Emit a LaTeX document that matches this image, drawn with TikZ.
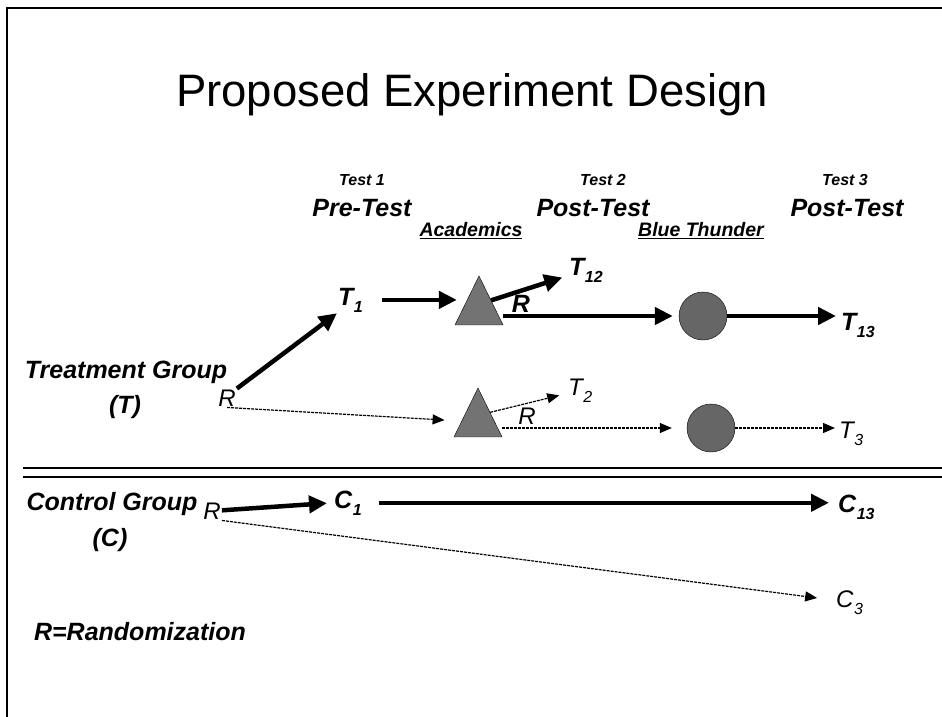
\documentclass[tikz,border=0pt]{standalone}
\usepackage{fontspec}
\setmainfont{Liberation Sans}
\usetikzlibrary{arrows.meta,shapes.geometric,calc}

\newcommand{\lowidx}[2]{#1\kern0.5pt\raisebox{-7pt}{\fontsize{16}{16}\selectfont #2}}

\begin{document}
\begin{tikzpicture}[x=1pt,y=-1pt,
		head/.style={font=\fontsize{25}{28}\selectfont\bfseries\itshape},
		mid/.style={font=\fontsize{19.5}{22}\selectfont\bfseries\itshape},
		small/.style={font=\fontsize{16}{18}\selectfont\bfseries\itshape},
		plain/.style={font=\fontsize{24}{28}\selectfont\itshape},
		tri/.style={isosceles triangle, isosceles triangle apex angle=52, isosceles triangle stretches, shape border rotate=90, draw, fill=black!55, inner sep=0pt, minimum width=48pt, minimum height=49pt},
		ball/.style={circle, draw, fill=black!60, minimum size=48pt, inner sep=0pt},
		big/.style={line width=4.5pt,-{Triangle[length=18pt,width=17pt]}},
		faint/.style={line width=1.2pt,dash pattern=on 3pt off 1pt,-{Triangle[length=12pt,width=10pt]}}]
		
		\useasboundingbox (0,0) rectangle (942,717);
		\draw[line width=2.5pt] (942,8) -- (7,8) -- (7,717);
		
		\node (title) at (472,95) [font=\fontsize{45.5}{50}\selectfont] {Proposed Experiment Design};
		
		\foreach \x/\y/\n/\lab in {362/362/1/Pre-Test, 603/593/2/Post-Test, 845/847/3/Post-Test} {
			\node (test\n) at (\x,180) [small] {Test \n};
			\node (phase\n) at (\y,208) [head] {\lab};
		}
		\node (acad) at (471,231) [mid] {\underline{Academics}};
		\node (blue) at (701,231) [mid] {\underline{Blue Thunder}};
		
		\node (tgroup) at (126,372) [head] {Treatment Group};
		\node (tname) at (125,407) [head] {(T)};
		\node (rT) at (227,398) [plain, inner sep=1pt] {R};
		\node (t1) at (337,305) [head, anchor=base west, inner sep=1pt] {\lowidx{T}{1}};
		\node (acad1) at (479,310) [tri] {};
		\node (t12) at (568,275) [head, anchor=base west, inner sep=1pt] {\lowidx{T}{12}};
		\node (rA) at (521,304) [head, inner sep=1pt] {R};
		\node (blue1) at (703,316) [ball] {};
		\node (t13) at (840,330) [head, anchor=base west, inner sep=1pt] {\lowidx{T}{13}};
		
		\draw[big] (rT.north east) -- (t1.south west);
		\draw[big, shorten <=18pt, shorten >=10pt] (t1.east) -- (t1.east -| acad1.left side);
		\draw[big, shorten >=6pt] (acad1.right side) -- (t12);
		\draw[big, shorten >=6pt] (acad1.right corner |- blue1) -- (blue1);
		\draw[big, shorten >=4pt] (blue1) -- (blue1 -| t13.west);
		
		\node (acad2) at (478,422) [tri] {};
		\node (t2) at (567,395) [plain, anchor=base west, inner sep=1pt] {\lowidx{T}{2}};
		\node (rB) at (527,416) [plain, inner sep=1pt] {R};
		\node (blue2) at (711,428) [ball] {};
		\node (t3) at (838,438) [plain, anchor=base west, inner sep=1pt] {\lowidx{T}{3}};
		
		\draw[faint, shorten >=17pt] (rT.south) -- (acad2);
		\draw[faint, shorten >=8pt] (acad2.right side) -- (t2);
		\draw[faint, shorten >=15pt] (acad2.right corner |- blue2) -- (blue2);
		\draw[faint, shorten >=3pt] (blue2) -- (blue2 -| t3.west);
		
		\draw[line width=2pt] (23,468) -- (942,468);
		\draw[line width=2pt] (23,477) -- (942,477);
		
		\node (cgroup) at (112,504) [head] {Control Group};
		\node (cname) at (110,540) [head] {(C)};
		\node (rC) at (212,511) [plain, inner sep=1pt] {R};
		\node (c1) at (333,508) [head, anchor=base west, inner sep=1pt] {\lowidx{C}{1}};
		\node (c13) at (837,512) [head, anchor=base west, inner sep=1pt] {\lowidx{C}{13}};
		\node (c3) at (835,607) [plain, anchor=base west, inner sep=1pt] {\lowidx{C}{3}};
		
		\draw[big, shorten >=6pt] (rC) -- (c1.west);
		\draw[big, shorten <=16pt, shorten >=8pt] (c1.east) -- (c1.east -| c13.west);
		\draw[faint, shorten >=18pt] (rC.south east) -- (c3);
		
		\node (rand) at (140,632) [head] {R=Randomization};
		
	\end{tikzpicture}
\end{document}
